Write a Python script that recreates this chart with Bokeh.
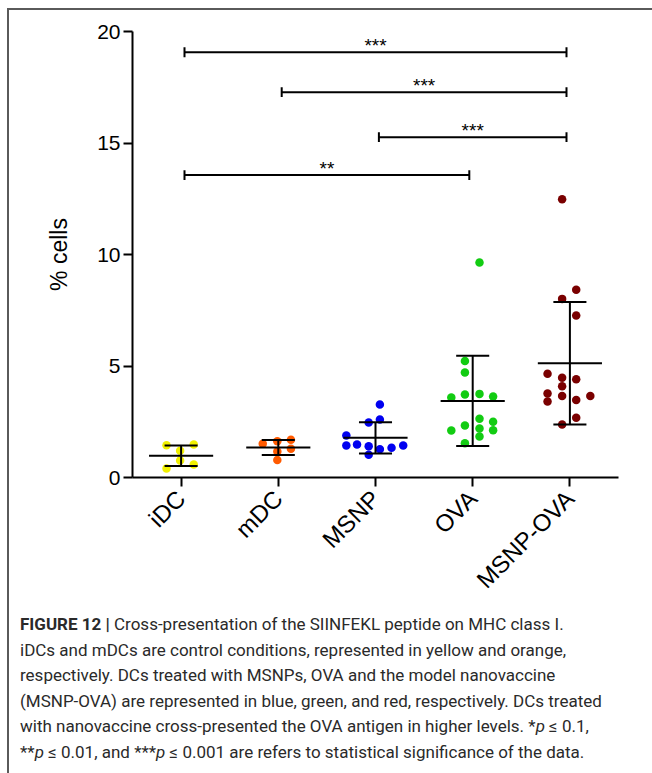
import numpy as np
from bokeh.plotting import figure
from bokeh.models import FixedTicker, Div, Range1d
from bokeh.layouts import column
from bokeh.embed import file_html
from bokeh.resources import INLINE
from bokeh.core.properties import value

categories = ["iDC", "mDC", "MSNP", "OVA", "MSNP-OVA"]
colors = ["#f0f000", "#ff5a00", "#0000f0", "#12cc12", "#7a0000"]

idc_vals = [1.45, 1.48, 1.20, 0.76, 0.40, 0.58]
idc_off = [-0.15, 0.13, -0.01, -0.01, -0.15, 0.13]
mdc_vals = [1.51, 1.63, 1.69, 1.29, 1.17, 0.79]
mdc_off = [-0.16, -0.01, 0.13, 0.13, -0.01, -0.01]
msnp_vals = [3.27, 2.60, 2.47, 1.88, 1.43, 1.48, 1.40, 1.02, 1.27, 1.33, 1.43]
msnp_off = [0.045, 0.045, -0.07, -0.30, -0.30, -0.19, -0.07, -0.07, 0.045, 0.165, 0.285]
ova_vals = [9.64, 5.22, 4.71, 3.59, 3.72, 3.75, 3.63, 2.63, 2.50, 2.11, 2.33, 2.20, 2.12, 1.84, 1.54]
ova_off = [0.07, -0.08, -0.08, -0.22, -0.08, 0.07, 0.21, 0.07, 0.21, -0.22, -0.08, 0.07, 0.21, 0.07, -0.08]
msnpova_vals = [12.48, 8.42, 8.01, 7.26, 4.65, 4.47, 4.41, 4.09, 3.77, 3.65, 3.65, 3.41, 3.48, 2.68, 2.38]
msnpova_off = [-0.08, 0.065, -0.08, 0.065, -0.23, -0.08, 0.065, -0.08, -0.23, -0.08, 0.21, -0.23, 0.065, 0.065, -0.08]

groups = [idc_vals, mdc_vals, msnp_vals, ova_vals, msnpova_vals]
offsets = [idc_off, mdc_off, msnp_off, ova_off, msnpova_off]

sig_start = [0, 1, 2, 0]
sig_end = [4, 4, 4, 3]
sig_y = [19.07, 17.28, 15.26, 13.56]
sig_label = ["***", "***", "***", "**"]

y_ticks = [0, 5, 10, 15, 20]

FONT = "Liberation Sans"

p = figure(width=643, height=597, output_backend="svg", toolbar_location=None,
           x_range=Range1d(-0.5, 4.5), y_range=Range1d(0, 20),
           min_border_left=123, min_border_right=34, min_border_top=21, min_border_bottom=130)
p.outline_line_color = None
p.xgrid.visible = False
p.ygrid.visible = False
p.background_fill_color = "white"
p.border_fill_color = "white"

# points
for i, (vals, offs) in enumerate(zip(groups, offsets)):
    xs = [i + o for o in offs]
    p.scatter(xs, vals, size=8.5, fill_color=colors[i], line_color=None)

# mean and SD bars
for i, vals in enumerate(groups):
    arr = np.array(vals)
    m = arr.mean()
    s = arr.std(ddof=1)
    p.segment(x0=[i - 0.33], y0=[m], x1=[i + 0.33], y1=[m], line_color="black", line_width=2)
    p.segment(x0=[i - 0.17, i - 0.17, i], y0=[m + s, m - s, m - s],
              x1=[i + 0.17, i + 0.17, i], y1=[m + s, m - s, m + s],
              line_color="black", line_width=2)

# significance bars
for a, b, y, lab in zip(sig_start, sig_end, sig_y, sig_label):
    xa = a + 0.035
    xb = b - 0.035
    p.segment(x0=[xa], y0=[y], x1=[xb], y1=[y], line_color="black", line_width=2)
    p.segment(x0=[xa, xb], y0=[y - 0.22, y - 0.22], x1=[xa, xb], y1=[y + 0.22, y + 0.22],
              line_color="black", line_width=2)
    p.text(x=[(xa + xb) / 2], y=[y], text=[lab], text_align="center", text_baseline="middle",
           y_offset=-7, text_font=value(FONT), text_font_size="19px", text_color="black")

# axes
for ax in (p.xaxis, p.yaxis):
    ax.axis_line_width = 2
    ax.axis_line_color = "black"
    ax.major_tick_line_width = 2
    ax.major_tick_line_color = "black"
    ax.major_tick_in = 0
    ax.major_tick_out = 9
    ax.minor_tick_line_color = None
    ax.major_label_text_font = FONT
    ax.major_label_text_font_size = "21px"
    ax.major_label_text_color = "black"

p.yaxis.ticker = FixedTicker(ticks=y_ticks)
p.yaxis.major_label_standoff = 3
p.yaxis.axis_label = "% cells"
p.yaxis.axis_label_text_font = FONT
p.yaxis.axis_label_text_font_size = "23px"
p.yaxis.axis_label_text_font_style = "normal"
p.yaxis.axis_label_text_color = "black"
p.yaxis.axis_label_standoff = 22

p.xaxis.ticker = FixedTicker(ticks=list(range(len(categories))))
p.xaxis.major_label_overrides = {i: c for i, c in enumerate(categories)}
p.xaxis.major_label_orientation = np.pi / 4
p.xaxis.major_label_standoff = 8
p.xaxis.major_label_text_font_size = "24px"

caption_html = (
    "<b>FIGURE 12 |</b> Cross-presentation of the SIINFEKL peptide on MHC class I.<br>"
    "iDCs and mDCs are control conditions, represented in yellow and orange,<br>"
    "respectively. DCs treated with MSNPs, OVA and the model nanovaccine<br>"
    "(MSNP-OVA) are represented in blue, green, and red, respectively. DCs treated<br>"
    "with nanovaccine cross-presented the OVA antigen in higher levels. *<i>p</i> &le; 0.1,<br>"
    "**<i>p</i> &le; 0.01, and ***<i>p</i> &le; 0.001 are refers to statistical significance of the data."
)
cap = Div(text=caption_html, width=643, height=166,
          styles={"font-family": "Roboto", "font-size": "17px", "line-height": "25.6px",
                  "color": "#2a2a2a", "white-space": "nowrap", "padding-left": "6px",
                  "padding-top": "0px"})

layout = column(p, cap, spacing=0, margin=(8, 0, 0, 7),
                styles={"border-left": "2px solid #5a5a5a", "border-top": "2px solid #5a5a5a",
                        "background-color": "white"})

open("out.html", "w").write(file_html(layout, INLINE))
